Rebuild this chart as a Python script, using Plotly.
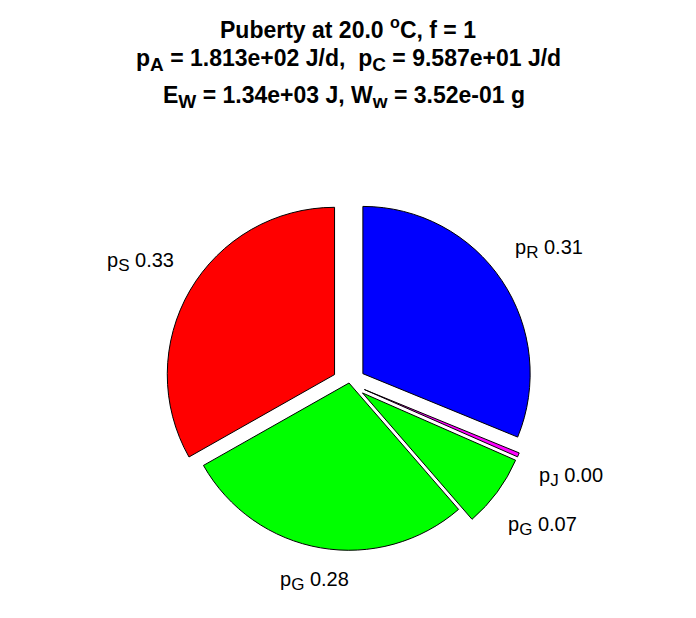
import math
import plotly.graph_objects as go

# data
flux_names = ["R", "J", "G", "G", "S"]
flux_shares = [0.31, 0.004, 0.07, 0.28, 0.33]
explode = [1, 1, 1, 0, 1]
slice_colors = ["#0000FF", "#FF00FF", "#00FF00", "#00FF00", "#FF0000"]


def sub(s, size):
    return f"<sub><span style='font-size:{size}px'>{s}</span></sub>"


title_lines = [
    "Puberty at 20.0 <sup>o</sup>C, f = 1",
    f"p{sub('A', 19)} = 1.813e+02 J/d,&nbsp; p{sub('C', 19)} = 9.587e+01 J/d",
    f"E{sub('W', 19)} = 1.34e+03 J, W{sub('w', 19)} = 3.52e-01 g",
]

W, H = 696, 618
L, R, T, B = 93, 107, 191, 59
PULL = 0.1
FONT = "Liberation Sans, Arial, sans-serif"

labels = [f"slice{i}" for i in range(len(flux_names))]
texts = [f"p{sub(n, 17)} {v:.2f}" for n, v in zip(flux_names, flux_shares)]

fig = go.Figure(go.Pie(
    labels=labels,
    values=flux_shares,
    text=texts,
    textinfo="none",
    sort=False,
    direction="clockwise",
    rotation=0,
    pull=[PULL * e for e in explode],
    marker=dict(colors=slice_colors, line=dict(color="black", width=1)),
    showlegend=False,
    hoverinfo="text",
))

pw, ph = W - L - R, H - T - B
r_px = min(pw, ph) / (2 * (1 + PULL))

annotations = []
# slice labels placed along each slice bisector (MATLAB-style pie labels)
total = sum(flux_shares)
cum = 0.0
for txt, v, e in zip(texts, flux_shares, explode):
    mid = cum + v / 2
    cum += v
    theta = math.radians(90 - 360 * mid / total)
    d = 1.2 * (1 + 0.2 * e) * r_px
    annotations.append(dict(
        text=txt,
        x=0.5 + d * math.cos(theta) / pw, xref="paper",
        y=0.5 + d * math.sin(theta) / ph, yref="paper",
        xanchor="center", yanchor="middle",
        showarrow=False,
        font=dict(family=FONT, size=20, color="black"),
    ))

title_px = [20, 52, 89]
title_cx = [340, 340, 336]
for line, ypx, cx in zip(title_lines, title_px, title_cx):
    annotations.append(dict(
        text="<b>" + line + "</b>",
        x=(cx - L) / pw, xref="paper",
        y=1 - (ypx - T) / ph, yref="paper",
        xanchor="center", yanchor="middle",
        showarrow=False,
        font=dict(family=FONT, size=23, color="black"),
    ))

fig.update_layout(
    width=W, height=H,
    margin=dict(l=L, r=R, t=T, b=B),
    paper_bgcolor="white",
    plot_bgcolor="white",
    annotations=annotations,
)

fig.write_html("out.html")
